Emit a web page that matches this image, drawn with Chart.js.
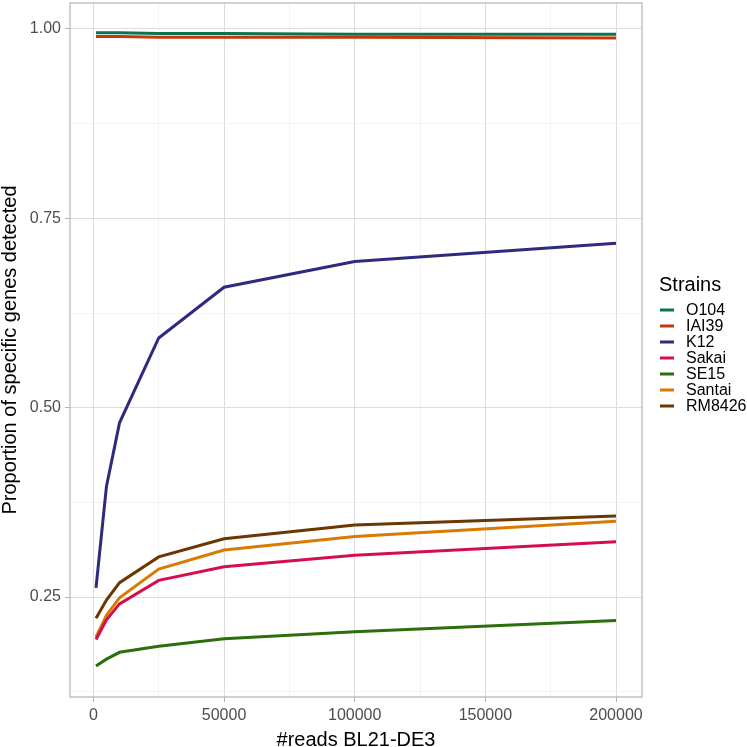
<!DOCTYPE html>
<html lang="en">
<head>
  <meta charset="UTF-8">
  <title>Specific genes detected</title>
  <style>
    html, body {
      margin: 0;
      padding: 0;
      background: #ffffff;
    }
    .chart-container {
      width: 747px;
      height: 747px;
    }
  </style>
</head>
<body>
  <div class="chart-container">
    <canvas id="lineChart" width="747" height="747"></canvas>
  </div>

  <script src="https://cdn.jsdelivr.net/npm/chart.js@4/dist/chart.umd.min.js"></script>
  <script>
    // Data
    const reads = [1000, 5000, 10000, 25000, 50000, 100000, 200000];
    const strains = ['O104', 'IAI39', 'K12', 'Sakai', 'SE15', 'Santai', 'RM8426'];
    const o104 = [0.995, 0.995, 0.995, 0.994, 0.994, 0.993, 0.993];
    const iai39 = [0.990, 0.990, 0.990, 0.989, 0.989, 0.989, 0.988];
    const k12 = [0.262, 0.396, 0.480, 0.592, 0.659, 0.693, 0.717];
    const sakai = [0.194, 0.220, 0.241, 0.272, 0.290, 0.305, 0.323];
    const se15 = [0.159, 0.168, 0.177, 0.185, 0.195, 0.204, 0.219];
    const santai = [0.197, 0.226, 0.249, 0.287, 0.312, 0.330, 0.350];
    const rm8426 = [0.222, 0.246, 0.269, 0.303, 0.327, 0.345, 0.357];
    const colors = ['#0b7350', '#c23a0c', '#2e2a7e', '#d60c52', '#2c6e0b', '#d97b00', '#6b3601'];

    const xTicks = [0, 25000, 50000, 75000, 100000, 125000, 150000, 175000, 200000];
    const yTicks = [0.125, 0.25, 0.375, 0.5, 0.625, 0.75, 0.875, 1.0];

    const series = [o104, iai39, k12, sakai, se15, santai, rm8426];
    const FONT = 'Liberation Sans, Arial, sans-serif';

    const datasets = series.map((vals, i) => ({
      label: strains[i],
      data: vals.map((v, j) => ({ x: reads[j], y: v })),
      borderColor: colors[i],
      backgroundColor: colors[i],
      borderWidth: 3,
      pointRadius: 0,
      tension: 0,
      fill: false
    }));

    // panel border + ggplot-style legend
    const panelPlugin = {
      id: 'panel',
      afterDraw(chart) {
        const { ctx, chartArea } = chart;
        ctx.save();
        ctx.strokeStyle = '#b3b3b3';
        ctx.lineWidth = 1.2;
        ctx.strokeRect(chartArea.left, chartArea.top, chartArea.right - chartArea.left, chartArea.bottom - chartArea.top);

        ctx.fillStyle = '#000';
        ctx.textBaseline = 'middle';
        ctx.font = '20px ' + FONT;
        ctx.fillText('Strains', 659, 285);
        ctx.font = '16px ' + FONT;
        strains.forEach((name, i) => {
          const y = 310 + i * 16;
          ctx.strokeStyle = colors[i];
          ctx.lineWidth = 3;
          ctx.beginPath();
          ctx.moveTo(660, y);
          ctx.lineTo(674, y);
          ctx.stroke();
          ctx.fillText(name, 686, y + 1);
        });
        ctx.restore();
      }
    };

    const isMajorX = v => v % 50000 === 0;
    const isMajorY = v => Math.abs(v * 4 - Math.round(v * 4)) < 1e-9;

    new Chart(document.getElementById('lineChart').getContext('2d'), {
      type: 'line',
      data: { datasets: datasets },
      options: {
        responsive: false,
        animation: false,
        layout: { padding: { top: 3, right: 105, bottom: 0, left: 0 } },
        plugins: {
          legend: { display: false },
          tooltip: { enabled: false }
        },
        scales: {
          x: {
            type: 'linear',
            min: -8950,
            max: 209950,
            afterBuildTicks: scale => { scale.ticks = xTicks.map(v => ({ value: v })); },
            afterFit: scale => { scale.height = 50; scale.paddingLeft = 0; scale.paddingRight = 0; },
            border: { display: false },
            grid: {
              color: ctx => isMajorX(ctx.tick.value) ? '#dcdcdc' : '#eeeeee',
              lineWidth: ctx => isMajorX(ctx.tick.value) ? 1 : 0.7,
              tickColor: ctx => isMajorX(ctx.tick.value) ? '#b3b3b3' : 'rgba(0,0,0,0)',
              tickLength: 5
            },
            ticks: {
              autoSkip: false,
              maxRotation: 0,
              padding: 4,
              color: '#4d4d4d',
              font: { family: FONT, size: 16 },
              callback: v => isMajorX(v) ? String(v) : ''
            },
            title: {
              display: true,
              text: '#reads BL21-DE3',
              color: '#000',
              padding: { top: 0, bottom: 0 },
              font: { family: FONT, size: 20, lineHeight: 0.7 }
            }
          },
          y: {
            min: 0.118,
            max: 1.0343,
            afterBuildTicks: scale => { scale.ticks = yTicks.map(v => ({ value: v })); },
            afterFit: scale => { scale.width = 70; scale.paddingTop = 0; scale.paddingBottom = 0; },
            border: { display: false },
            grid: {
              color: ctx => isMajorY(ctx.tick.value) ? '#dcdcdc' : '#eeeeee',
              lineWidth: ctx => isMajorY(ctx.tick.value) ? 1 : 0.7,
              tickColor: ctx => isMajorY(ctx.tick.value) ? '#b3b3b3' : 'rgba(0,0,0,0)',
              tickLength: 5
            },
            ticks: {
              autoSkip: false,
              padding: 4,
              color: '#4d4d4d',
              font: { family: FONT, size: 16 },
              callback: v => isMajorY(v) ? v.toFixed(2) : ''
            },
            title: {
              display: true,
              text: 'Proportion of specific genes detected',
              color: '#000',
              padding: { top: 0, bottom: 0 },
              font: { family: FONT, size: 20, lineHeight: 1.0 }
            }
          }
        }
      },
      plugins: [panelPlugin]
    });
  </script>
</body>
</html>
